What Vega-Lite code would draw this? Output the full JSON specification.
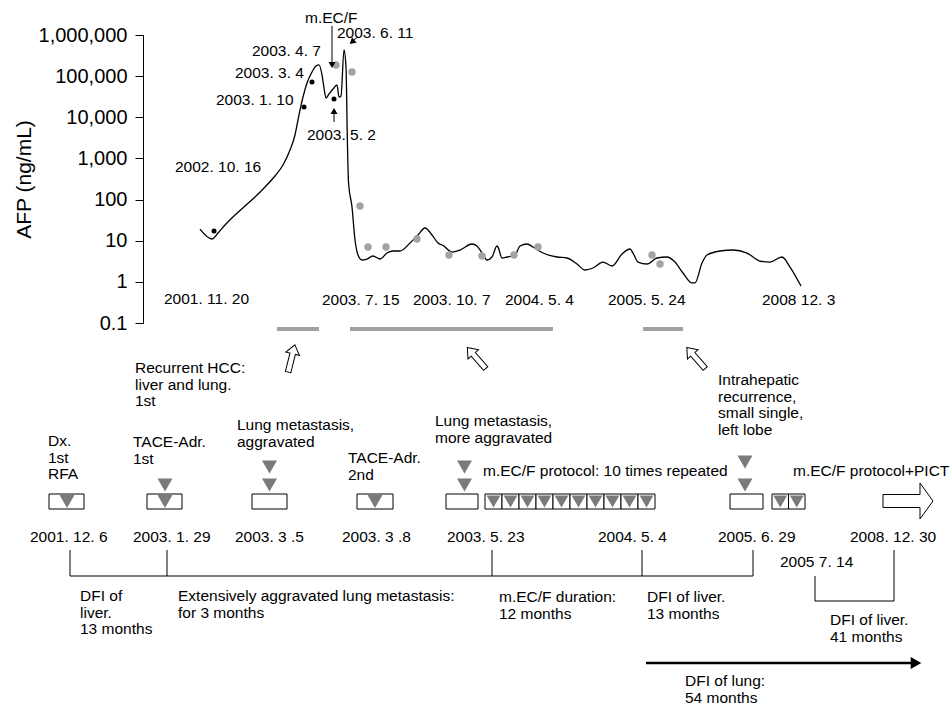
{
  "$schema": "https://vega.github.io/schema/vega-lite/v6.json",
  "width": 809,
  "height": 707,
  "autosize": {"type": "none"},
  "padding": {"left": 143, "top": 0, "right": 0, "bottom": 0},
  "background": "white",
  "config": {"view": {"stroke": null}, "font": "Liberation Sans"},
  "datasets": {
    "afp": [
      {"x":200,"afp":19.2},{"x":212,"afp":11.0},{"x":218,"afp":15.4},{"x":225,"afp":24.1},{"x":235,"afp":42.2},{"x":245,"afp":69.7},{"x":255,"afp":115},{"x":265,"afp":202},{"x":275,"afp":374},{"x":283,"afp":692},{"x":290,"afp":1600},{"x":295,"afp":3710},{"x":298,"afp":8590},{"x":300,"afp":15000},{"x":303,"afp":31100},{"x":307,"afp":68100},{"x":312,"afp":126000},{"x":316,"afp":176000},{"x":319,"afp":187000},{"x":322,"afp":107000},{"x":324,"afp":51500},{"x":326,"afp":29400},{"x":329,"afp":36800},{"x":333,"afp":48700},{"x":337,"afp":60900},{"x":339,"afp":31100},{"x":341,"afp":33000},{"x":344,"afp":432000},{"x":346,"afp":167000},{"x":347.5,"afp":1900},{"x":348.5,"afp":267},{"x":352,"afp":65.9},{"x":355,"afp":10.4},{"x":358,"afp":4.49},{"x":362,"afp":3.40},{"x":367,"afp":3.59},{"x":373,"afp":4.25},{"x":380,"afp":3.59},{"x":387,"afp":5.02},{"x":393,"afp":5.62},{"x":400,"afp":5.62},{"x":410,"afp":8.79},{"x":418,"afp":13.8},{"x":425,"afp":20.4},{"x":432,"afp":13.8},{"x":438,"afp":8.79},{"x":444,"afp":7.43},{"x":446,"afp":6.65},{"x":452,"afp":5.31},{"x":460,"afp":5.94},{"x":472,"afp":8.31},{"x":477,"afp":7.43},{"x":482,"afp":5.02},{"x":487,"afp":3.40},{"x":492,"afp":4.02},{"x":497,"afp":7.43},{"x":498,"afp":7.03},{"x":502,"afp":3.80},{"x":507,"afp":4.02},{"x":515,"afp":4.49},{"x":520,"afp":7.43},{"x":527,"afp":8.31},{"x":533,"afp":7.03},{"x":543,"afp":5.02},{"x":557,"afp":4.02},{"x":567,"afp":3.80},{"x":577,"afp":2.72},{"x":585,"afp":1.94},{"x":593,"afp":2.17},{"x":603,"afp":3.03},{"x":612,"afp":2.43},{"x":622,"afp":4.75},{"x":630,"afp":6.29},{"x":633,"afp":5.02},{"x":638,"afp":3.03},{"x":647,"afp":2.72},{"x":657,"afp":3.80},{"x":667,"afp":4.02},{"x":675,"afp":3.03},{"x":683,"afp":1.64},{"x":692,"afp":0.94},{"x":695,"afp":0.94},{"x":702,"afp":2.87},{"x":707,"afp":4.49},{"x":720,"afp":5.62},{"x":733,"afp":5.94},{"x":747,"afp":5.02},{"x":760,"afp":3.21},{"x":770,"afp":3.03},{"x":782,"afp":4.02},{"x":790,"afp":2.29},{"x":801,"afp":0.79}
    ],
    "grayDots": [
      {"x":336,"afp":187000},{"x":352,"afp":126000},{"x":360,"afp":69.7},{"x":368,"afp":7.03},{"x":386,"afp":7.03},{"x":417,"afp":11.0},{"x":449,"afp":4.49},{"x":482,"afp":4.25},{"x":514,"afp":4.49},{"x":538,"afp":7.03},{"x":652,"afp":4.49},{"x":660,"afp":2.72}
    ],
    "blackDots": [
      {"x":214,"afp":17.2},{"x":304,"afp":17800},{"x":312,"afp":72100},{"x":334,"afp":27800}
    ],
    "labels": [
      {"x":305,"y":18,"text":"m.EC/F"},
      {"x":337,"y":33,"text":"2003. 6. 11"},
      {"x":252,"y":51,"text":"2003. 4. 7"},
      {"x":235,"y":73,"text":"2003. 3. 4"},
      {"x":216,"y":100,"text":"2003. 1. 10"},
      {"x":307,"y":135,"text":"2003. 5. 2"},
      {"x":175,"y":167,"text":"2002. 10. 16"},
      {"x":164,"y":299,"text":"2001. 11. 20"},
      {"x":322,"y":300,"text":"2003. 7. 15"},
      {"x":413,"y":300,"text":"2003. 10. 7"},
      {"x":505,"y":300,"text":"2004. 5. 4"},
      {"x":608,"y":300,"text":"2005. 5. 24"},
      {"x":762,"y":300,"text":"2008 12. 3"},
      {"x":135,"y":368,"text":"Recurrent HCC:\nliver and lung.\n1st"},
      {"x":718,"y":380,"text":"Intrahepatic\nrecurrence,\nsmall single,\nleft lobe"},
      {"x":237,"y":425,"text":"Lung metastasis,\naggravated"},
      {"x":435,"y":421,"text":"Lung metastasis,\nmore aggravated"},
      {"x":48,"y":441,"text":"Dx.\n1st\nRFA"},
      {"x":133,"y":442,"text":"TACE-Adr.\n1st"},
      {"x":348,"y":458,"text":"TACE-Adr.\n2nd"},
      {"x":483,"y":471,"text":"m.EC/F protocol: 10 times repeated"},
      {"x":793,"y":471,"text":"m.EC/F protocol+PICT"},
      {"x":30,"y":537,"text":"2001. 12. 6"},
      {"x":133,"y":537,"text":"2003. 1. 29"},
      {"x":235,"y":537,"text":"2003. 3 .5"},
      {"x":342,"y":537,"text":"2003. 3 .8"},
      {"x":447,"y":537,"text":"2003. 5. 23"},
      {"x":598,"y":537,"text":"2004. 5. 4"},
      {"x":718,"y":537,"text":"2005. 6. 29"},
      {"x":850,"y":537,"text":"2008. 12. 30"},
      {"x":780,"y":562,"text":"2005 7. 14"},
      {"x":80,"y":596,"text":"DFI of\nliver.\n13 months"},
      {"x":178,"y":596,"text":"Extensively aggravated lung metastasis:\nfor 3 months"},
      {"x":499,"y":597,"text":"m.EC/F duration:\n12 months"},
      {"x":647,"y":597,"text":"DFI of liver.\n13 months"},
      {"x":830,"y":620,"text":"DFI of liver.\n41 months"},
      {"x":685,"y":681,"text":"DFI of lung:\n54 months"}
    ],
    "boxes": [
      {"x":49,"x2":84,"y":494,"y2":509},{"x":147,"x2":182,"y":494,"y2":509},{"x":252,"x2":287,"y":494,"y2":509},{"x":357,"x2":393,"y":494,"y2":509},{"x":446,"x2":478,"y":494,"y2":509},
      {"x":485,"x2":502,"y":494,"y2":509},{"x":502,"x2":519,"y":494,"y2":509},{"x":519,"x2":536,"y":494,"y2":509},{"x":536,"x2":553,"y":494,"y2":509},{"x":553,"x2":570,"y":494,"y2":509},{"x":570,"x2":587,"y":494,"y2":509},{"x":587,"x2":604,"y":494,"y2":509},{"x":604,"x2":621,"y":494,"y2":509},{"x":621,"x2":638,"y":494,"y2":509},{"x":638,"x2":655,"y":494,"y2":509},
      {"x":730,"x2":763,"y":494,"y2":509},{"x":772,"x2":788.5,"y":494,"y2":509},{"x":788.5,"x2":805,"y":494,"y2":509}
    ],
    "bigTris": [
      {"x":67,"y":501.5},{"x":165,"y":485},{"x":165,"y":501.5},{"x":269.5,"y":467},{"x":269.5,"y":485},{"x":375,"y":501.5},{"x":464.5,"y":467},{"x":464.5,"y":485},{"x":745,"y":462},{"x":745,"y":485}
    ],
    "smallTris": [
      {"x":493.5,"y":501.5},{"x":510.5,"y":501.5},{"x":527.5,"y":501.5},{"x":544.5,"y":501.5},{"x":561.5,"y":501.5},{"x":578.5,"y":501.5},{"x":595.5,"y":501.5},{"x":612.5,"y":501.5},{"x":629.5,"y":501.5},{"x":646.5,"y":501.5},{"x":780.25,"y":501.5},{"x":796.75,"y":501.5}
    ],
    "lines": [
      {"x":70,"y":550,"x2":70,"y2":576},{"x":167,"y":550,"x2":167,"y2":576},{"x":492,"y":550,"x2":492,"y2":576},{"x":642,"y":550,"x2":642,"y2":576},{"x":753,"y":550,"x2":753,"y2":576},{"x":70,"y":576,"x2":753,"y2":576},
      {"x":815,"y":576,"x2":815,"y2":601},{"x":815,"y":601,"x2":894,"y2":601},{"x":894,"y":550,"x2":894,"y2":601},
      {"x":332,"y":26,"x2":332,"y2":62},{"x":334,"y":122,"x2":334,"y2":113},{"x":358,"y":36.5,"x2":354,"y2":40}
    ],
    "lungArrow": [{"x":646,"y":663,"x2":912,"y2":663}],
    "lungHead": [{"x":916,"y":663}],
    "bars": [
      {"x":277,"x2":319,"y":329,"y2":329},{"x":350,"x2":553,"y":329,"y2":329},{"x":643,"x2":683,"y":329,"y2":329}
    ],
    "headDown": [{"x":332,"y":65}],
    "headUp": [{"x":334,"y":111}],
    "headDiag": [{"x":352,"y":42}],
    "openArrowA": [{"x":291.5,"y":358.5}],
    "openArrowB": [{"x":476.5,"y":358},{"x":696,"y":358}],
    "bigArrow": [{"x":908,"y":501}]
  },
  "layer": [
    {
      "encoding": {
        "x": {"field": "x", "type": "quantitative", "scale": {"domain": [143, 952], "nice": false, "zero": false}, "axis": null},
        "y": {
          "field": "afp", "type": "quantitative",
          "scale": {"type": "log", "domain": [0.1, 1000000], "range": [323, 35], "nice": false},
          "axis": {
            "title": "AFP (ng/mL)", "values": [0.1, 1, 10, 100, 1000, 10000, 100000, 1000000], "format": ",",
            "grid": false, "domain": true, "domainColor": "black", "ticks": true, "tickColor": "black", "tickSize": 8,
            "labelFontSize": 20, "labelColor": "black", "labelPadding": 8, "labelFlush": false, "labelOverlap": false,
            "labelFont": "Liberation Sans",
            "titleFontSize": 21, "titleFontWeight": "normal", "titleColor": "black", "titlePadding": 4, "titleFont": "Liberation Sans"
          }
        }
      },
      "layer": [
        {"data": {"name": "afp"}, "mark": {"type": "line", "color": "black", "strokeWidth": 1.3, "interpolate": "monotone"}},
        {"data": {"name": "grayDots"}, "mark": {"type": "point", "filled": true, "color": "#a3a3a3", "opacity": 1, "size": 55}},
        {"data": {"name": "blackDots"}, "mark": {"type": "point", "filled": true, "color": "black", "opacity": 1, "size": 25}}
      ]
    },
    {
      "encoding": {
        "x": {"field": "x", "type": "quantitative", "scale": {"domain": [143, 952], "nice": false, "zero": false}, "axis": null},
        "y": {"field": "y", "type": "quantitative", "scale": {"domain": [0, 707], "reverse": true, "nice": false, "zero": false}, "axis": null}
      },
      "layer": [
        {"data": {"name": "bars"}, "mark": {"type": "rule", "color": "#a0a0a0", "strokeWidth": 4}, "encoding": {"x2": {"field": "x2"}, "y2": {"field": "y2"}}},
        {"data": {"name": "lines"}, "mark": {"type": "rule", "color": "black", "strokeWidth": 1}, "encoding": {"x2": {"field": "x2"}, "y2": {"field": "y2"}}},
        {"data": {"name": "lungArrow"}, "mark": {"type": "rule", "color": "black", "strokeWidth": 2.5}, "encoding": {"x2": {"field": "x2"}, "y2": {"field": "y2"}}},
        {"data": {"name": "lungHead"}, "mark": {"type": "point", "shape": "triangle-right", "filled": true, "color": "black", "opacity": 1, "size": 150}},
        {"data": {"name": "headDown"}, "mark": {"type": "point", "shape": "triangle-down", "filled": true, "color": "black", "opacity": 1, "size": 49}},
        {"data": {"name": "headUp"}, "mark": {"type": "point", "shape": "triangle-up", "filled": true, "color": "black", "opacity": 1, "size": 49}},
        {"data": {"name": "headDiag"}, "mark": {"type": "point", "shape": "triangle-up", "angle": 230, "filled": true, "color": "black", "opacity": 1, "size": 49}},
        {"data": {"name": "boxes"}, "mark": {"type": "rect", "fill": "white", "stroke": "black", "strokeWidth": 1}, "encoding": {"x2": {"field": "x2"}, "y2": {"field": "y2"}}},
        {"data": {"name": "bigTris"}, "mark": {"type": "point", "shape": "triangle-down", "filled": true, "color": "#7a7a7a", "opacity": 1, "size": 225}},
        {"data": {"name": "smallTris"}, "mark": {"type": "point", "shape": "triangle-down", "filled": true, "color": "#7a7a7a", "opacity": 1, "size": 190}},
        {"data": {"name": "openArrowA"}, "mark": {"type": "point", "shape": "M0,-1L0.5,-0.35L0.2,-0.35L0.2,1L-0.2,1L-0.2,-0.35L-0.5,-0.35Z", "angle": 14, "filled": true, "fill": "white", "stroke": "black", "strokeWidth": 1, "opacity": 1, "size": 784}},
        {"data": {"name": "openArrowB"}, "mark": {"type": "point", "shape": "M0,-1L0.5,-0.35L0.2,-0.35L0.2,1L-0.2,1L-0.2,-0.35L-0.5,-0.35Z", "angle": -41, "filled": true, "fill": "white", "stroke": "black", "strokeWidth": 1, "opacity": 1, "size": 784}},
        {"data": {"name": "bigArrow"}, "mark": {"type": "point", "shape": "M-1,-0.26L0.48,-0.26L0.48,-0.72L1,0L0.48,0.72L0.48,0.26L-1,0.26Z", "filled": true, "fill": "white", "stroke": "black", "strokeWidth": 1, "opacity": 1, "size": 2500}},
        {"data": {"name": "labels"}, "mark": {"type": "text", "align": "left", "baseline": "top", "dy": -6.7, "fontSize": 15.5, "lineBreak": "\n", "lineHeight": 16.5, "font": "Liberation Sans", "color": "black"}, "encoding": {"text": {"field": "text", "type": "nominal"}}}
      ]
    }
  ],
  "resolve": {"scale": {"y": "independent"}, "axis": {"y": "independent"}}
}
